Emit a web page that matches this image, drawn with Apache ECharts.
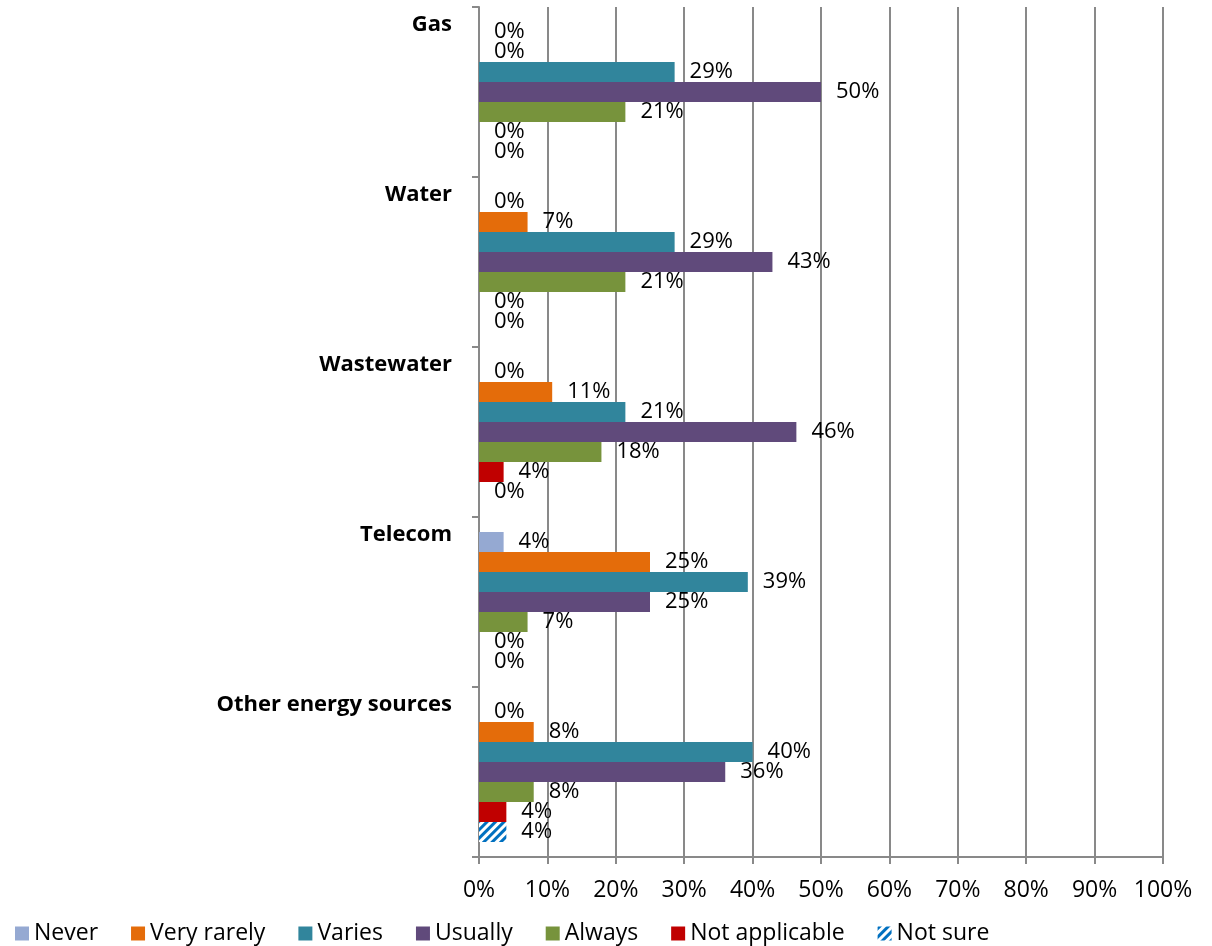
<!DOCTYPE html>
<html>
<head>
<meta charset="utf-8">
<script src="https://cdn.jsdelivr.net/npm/echarts@6/dist/echarts.min.js"></script>
<style>
html,body{margin:0;padding:0;background:#fff;}
#chart{width:1212px;height:946px;}
</style>
</head>
<body>
<div id="chart"></div>
<script>
const categories = ['Gas', 'Water', 'Wastewater', 'Telecom', 'Other energy sources'];
const seriesNames = ['Never', 'Very rarely', 'Varies', 'Usually', 'Always', 'Not applicable', 'Not sure'];
const never        = [0, 0, 0, 3.6, 0];
const veryRarely   = [0, 7.1, 10.7, 25, 8];
const varies       = [28.6, 28.6, 21.4, 39.3, 40];
const usually      = [50, 42.9, 46.4, 25, 36];
const always       = [21.4, 21.4, 17.9, 7.1, 8];
const notApplicable= [0, 0, 3.6, 0, 4];
const notSure      = [0, 0, 0, 0, 4];
const xTicks = [0, 10, 20, 30, 40, 50, 60, 70, 80, 90, 100];

const seriesData = [never, veryRarely, varies, usually, always, notApplicable, notSure];
const colors = ['#95A9D2', '#E46C0A', '#31859C', '#604A7B', '#77933C', '#C00000', '#FFFFFF'];
const FONT = 'Open Sans';

const series = seriesNames.map((name, i) => {
  const s = {
    name: name,
    type: 'bar',
    data: seriesData[i],
    barWidth: 20,
    barGap: '0%',
    itemStyle: { color: colors[i] },
    label: {
      show: true,
      position: 'right',
      distance: 15,
      color: '#000',
      fontFamily: FONT,
      fontSize: 22,
      formatter: p => Math.round(p.value) + '%'
    },
    emphasis: { disabled: true }
  };
  if (name === 'Not sure') {
    s.itemStyle = {
      color: '#FFFFFF',
      decal: {
        symbol: 'rect',
        symbolSize: 1,
        color: '#0070C0',
        dashArrayX: [1, 0],
        dashArrayY: [3, 3],
        rotation: -Math.PI / 4
      }
    };
  }
  return s;
});

const chart = echarts.init(document.getElementById('chart'));
chart.setOption({
  animation: false,
  backgroundColor: '#fff',
  color: colors,
  grid: { left: 479, right: 49, top: 7, bottom: 89, containLabel: false },
  legend: {
    data: seriesNames,
    left: 10,
    top: 917,
    itemWidth: 14,
    itemHeight: 14,
    itemGap: 33,
    icon: 'rect',
    textStyle: { fontFamily: FONT, fontSize: 23, color: '#000' }
  },
  xAxis: {
    type: 'value',
    min: xTicks[0],
    max: xTicks[xTicks.length - 1],
    interval: 10,
    axisLine: { show: true, lineStyle: { color: '#898989', width: 2 } },
    axisTick: { show: true, length: 7, lineStyle: { color: '#898989', width: 2 } },
    splitLine: { show: true, lineStyle: { color: '#898989', width: 2 } },
    axisLabel: {
      fontFamily: FONT, fontSize: 23, color: '#000', margin: 22,
      formatter: v => v + '%'
    }
  },
  yAxis: {
    type: 'category',
    data: categories,
    inverse: true,
    axisLine: { show: true, lineStyle: { color: '#898989', width: 2 } },
    axisTick: { show: true, length: 7, alignWithLabel: false, lineStyle: { color: '#898989', width: 2 } },
    axisLabel: {
      fontFamily: FONT, fontSize: 22, fontWeight: 'bold', color: '#000',
      margin: 27,
      lineHeight: 22.4,
      formatter: v => v + '\n \n \n \n \n \n '
    }
  },
  series: series
});
</script>
</body>
</html>
